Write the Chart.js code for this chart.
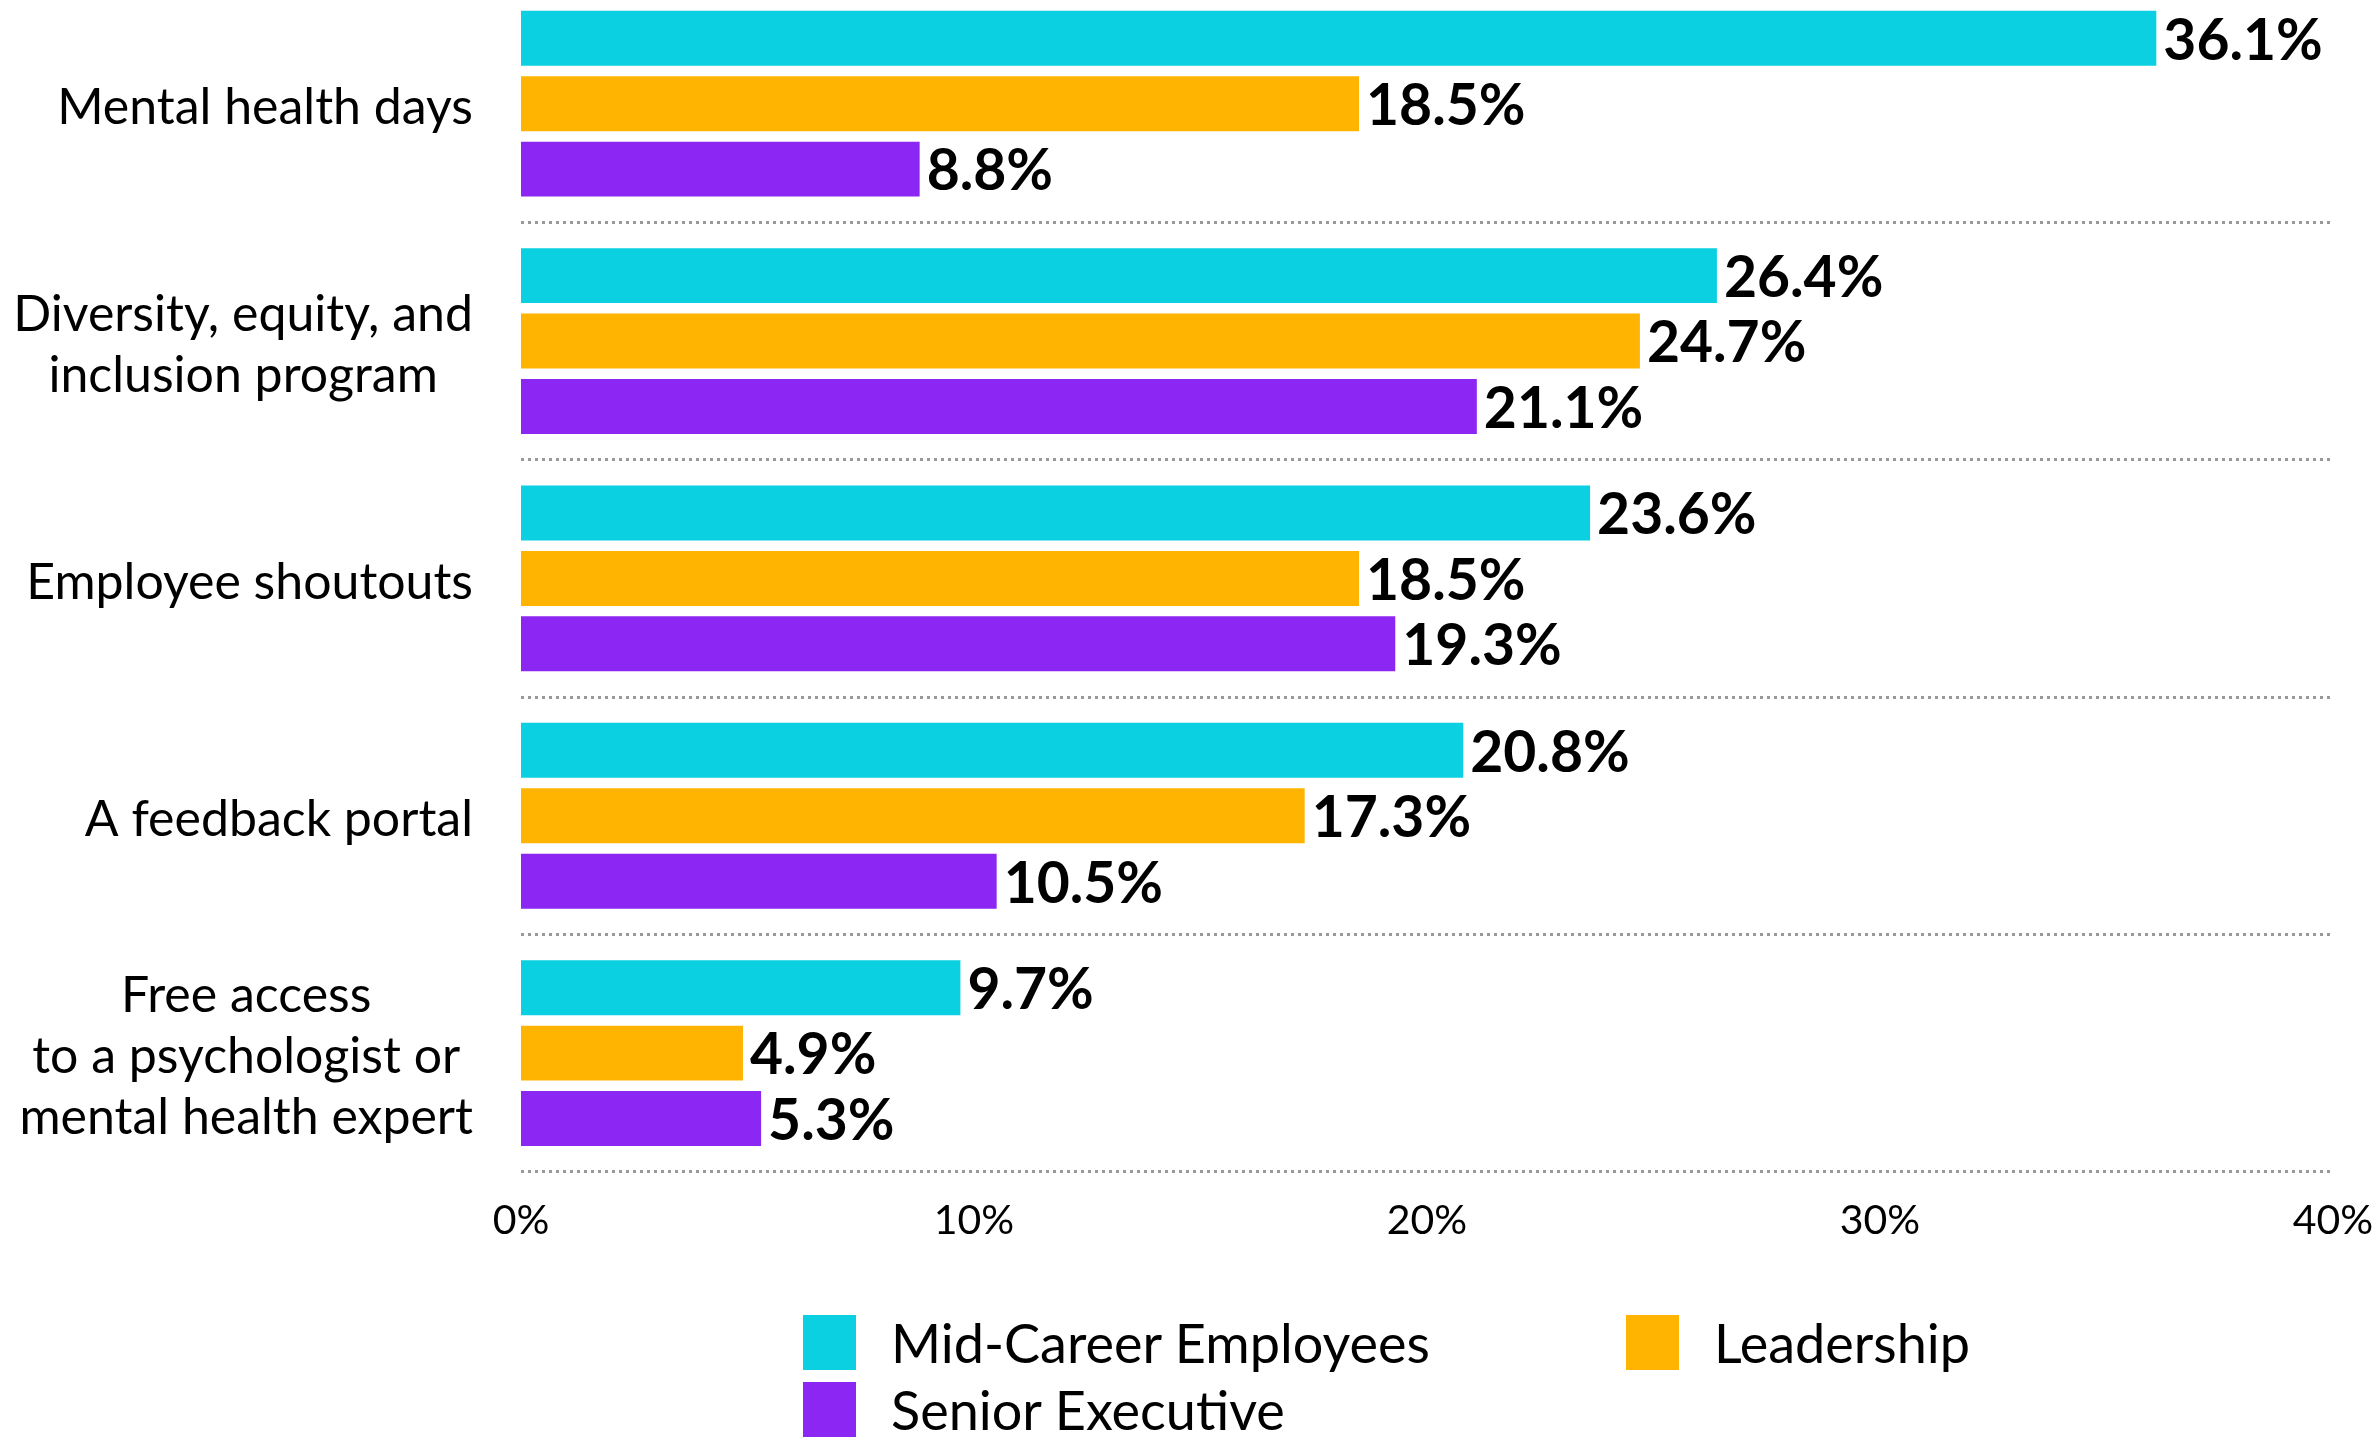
<!DOCTYPE html>
<html lang="en">
<head>
  <meta charset="UTF-8">
  <title>Workplace initiatives by career level</title>
  <script src="https://cdn.jsdelivr.net/npm/chart.js"></script>
  <style>
    body {
      margin: 0;
      background: #fff;
      font-family: Lato, sans-serif;
    }

    #wrap {
      position: absolute;
      left: 0;
      top: -15px;
      width: 2376px;
      height: 1260px;
    }

    .legend {
      position: absolute;
      left: 803px;
      top: 1315px;
      display: grid;
      grid-template-columns: 823px auto;
      row-gap: 12px;
    }

    .legend-item {
      display: flex;
      align-items: center;
      font-size: 54px;
      color: #000;
      height: 55px;
    }

    .legend-box {
      width: 53px;
      height: 55px;
      margin-right: 35px;
    }
  </style>
</head>
<body>

  <div id="wrap"><canvas id="chart"></canvas></div>
  <div class="legend" id="legend"></div>

  <script>
    // data
    const categories = [
      ['Mental health days'],
      ['Diversity, equity, and', 'inclusion program'],
      ['Employee shoutouts'],
      ['A feedback portal'],
      ['Free access', 'to a psychologist or', 'mental health expert']
    ];
    const seriesNames = ['Mid-Career Employees', 'Leadership', 'Senior Executive'];
    const seriesColors = ['#0bd0e2', '#ffb401', '#8c26f2'];
    const midCareer = [36.1, 26.4, 23.6, 20.8, 9.7];
    const leadership = [18.5, 24.7, 18.5, 17.3, 4.9];
    const seniorExec = [8.8, 21.1, 19.3, 10.5, 5.3];
    const xTicks = [0, 10, 20, 30, 40];

    // category labels: block right-aligned, lines centred inside the block
    const categoryLabels = {
      id: 'categoryLabels',
      afterDraw(chart) {
        const ctx = chart.ctx;
        const yScale = chart.scales.y;
        const right = chart.chartArea.left - 48;
        const lineHeight = 61;
        ctx.save();
        ctx.font = '50px Lato';
        ctx.fillStyle = '#000';
        ctx.textAlign = 'center';
        ctx.textBaseline = 'middle';
        categories.forEach((lines, i) => {
          const cy = yScale.getPixelForValue(i) + 4;
          const widest = Math.max(...lines.map(l => ctx.measureText(l).width));
          const cx = right - widest / 2;
          lines.forEach((line, j) => {
            ctx.fillText(line, cx, cy + (j - (lines.length - 1) / 2) * lineHeight);
          });
        });
        ctx.restore();
      }
    };

    // value at the end of each bar
    const valueLabels = {
      id: 'valueLabels',
      afterDatasetsDraw(chart) {
        const ctx = chart.ctx;
        ctx.save();
        ctx.font = 'bold 57px Lato';
        ctx.fillStyle = '#000';
        ctx.textAlign = 'left';
        ctx.textBaseline = 'middle';
        chart.data.datasets.forEach((ds, i) => {
          chart.getDatasetMeta(i).data.forEach((bar, j) => {
            ctx.fillText(ds.data[j].toFixed(1) + '%', bar.x + 7, bar.y + 3);
          });
        });
        ctx.restore();
      }
    };

    const seriesData = [midCareer, leadership, seniorExec];

    new Chart(document.getElementById('chart'), {
      type: 'bar',
      data: {
        labels: categories,
        datasets: seriesNames.map((name, i) => ({
          label: name,
          data: seriesData[i],
          backgroundColor: seriesColors[i],
          categoryPercentage: 0.827,
          barPercentage: 0.84
        }))
      },
      options: {
        indexAxis: 'y',
        responsive: true,
        maintainAspectRatio: false,
        animation: false,
        layout: { padding: { left: 0, right: 43, top: 0, bottom: 0 } },
        plugins: {
          legend: { display: false },
          tooltip: { enabled: false }
        },
        scales: {
          x: {
            min: xTicks[0],
            max: xTicks[xTicks.length - 1],
            afterBuildTicks: axis => { axis.ticks = xTicks.map(v => ({ value: v })); },
            // tick marks are hidden with the grid; their length only spaces the labels
            grid: { display: false, drawTicks: true, tickLength: 24 },
            border: { display: false },
            ticks: {
              callback: v => v + '%',
              font: { family: 'Lato', size: 41 },
              color: '#000',
              padding: 0,
              maxRotation: 0
            }
          },
          y: {
            afterFit: axis => { axis.width = 521; },
            ticks: { display: false },
            grid: { color: '#999', lineWidth: 3, drawTicks: false, offset: true },
            border: { display: false, dash: [3, 4] }
          }
        }
      },
      plugins: [categoryLabels, valueLabels]
    });

    // legend laid out as a two-column grid like the original
    const legend = document.getElementById('legend');
    seriesNames.forEach((name, i) => {
      const item = document.createElement('div');
      item.className = 'legend-item';
      item.innerHTML = '<span class="legend-box" style="background:' + seriesColors[i] + '"></span>' + name;
      legend.appendChild(item);
    });
  </script>

</body>
</html>
